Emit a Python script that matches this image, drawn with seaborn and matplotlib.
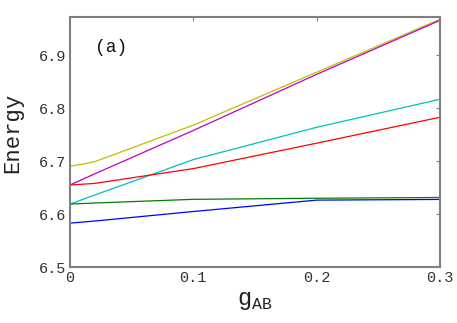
import pandas as pd
import seaborn as sns
import matplotlib.pyplot as plt

g_ab = [0.0, 0.02, 0.1, 0.2, 0.3]

yellow = [6.690, 6.699, 6.768, 6.868, 6.968]
magenta = [6.655, 6.676, 6.758, 6.864, 6.966]
cyan = [6.619, 6.636, 6.703, 6.764, 6.817]
red = [6.655, 6.658, 6.686, 6.734, 6.783]
green = [6.619, 6.621, 6.628, 6.630, 6.6315]
blue = [6.583, 6.587, 6.605, 6.6265, 6.6278]

series = [
    (yellow, (0.75, 0.75, 0)),
    (magenta, (0.75, 0, 0.75)),
    (cyan, (0, 0.75, 0.75)),
    (red, (1, 0, 0)),
    (green, (0, 0.5, 0)),
    (blue, (0, 0, 1)),
]

sns.set_style('white')
plt.rcParams['font.family'] = ['Liberation Mono', 'DejaVu Sans Mono']
plt.rcParams['mathtext.fontset'] = 'custom'
plt.rcParams['mathtext.rm'] = 'Liberation Mono'

fig = plt.figure(figsize=(4.57, 3.23), dpi=100)
ax = fig.add_axes([0.153, 0.173, 0.81, 0.774])

for vals, col in series:
    df = pd.DataFrame({'g': g_ab, 'E': vals})
    sns.lineplot(data=df, x='g', y='E', color=col, lw=0.9, ax=ax)

ax.set_xlim(0, 0.3)
ax.set_ylim(6.5, 6.972)
ax.set_xticks([0, 0.1, 0.2, 0.3])
ax.set_xticklabels(['0', '0.1', '0.2', '0.3'])
ax.set_yticks([6.5, 6.6, 6.7, 6.8, 6.9])
ax.set_yticklabels(['6.5', '6.6', '6.7', '6.8', '6.9'])
ax.tick_params(direction='in', length=3, width=0.8, color='#808080',
               labelsize=11, labelcolor='#333333', top=True, right=True,
               pad=3)
for s in ax.spines.values():
    s.set_color('#808080')
    s.set_linewidth(1.5)

ax.set_xlabel(r'g$_{\mathrm{AB}}$', fontsize=17, color='#222222', labelpad=3)
ax.set_ylabel('Energy', fontsize=16, color='#222222')
ax.yaxis.set_label_coords(-0.125, 0.536)
ax.text(0.068, 0.88, '(a)', transform=ax.transAxes, fontsize=13,
        color='#111111', va='center')

fig.savefig('out.png', dpi=100)
